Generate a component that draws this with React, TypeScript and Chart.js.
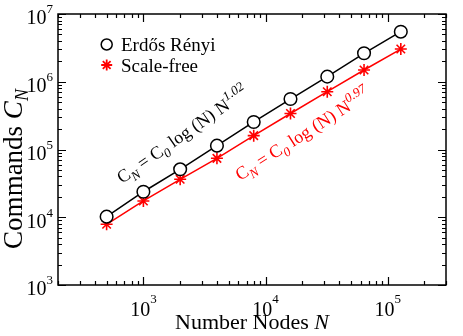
import React, { useEffect, useRef } from "react";
import { Chart, registerables } from "chart.js";

Chart.register(...registerables);

const nodes = [500, 1000, 2000, 4000, 8000, 16000, 32000, 64000, 128000];
const erdosRenyi = [10200, 23800, 51000, 114000, 255000, 556000, 1190000, 2630000, 5480000];
const scaleFree = [7870, 17400, 36300, 74100, 160000, 340000, 713000, 1490000, 3040000];
const xMajorExps = [3, 4, 5];
const yMajorExps = [3, 4, 5, 6, 7];
const X_MIN = 200;
const X_MAX = 300000;
const Y_MIN = 1000;
const Y_MAX = 10000000;

const FONT = '"Liberation Serif", "DejaVu Serif", serif';

type Seg = { t: string; size: number; italic?: boolean; dy?: number };

function drawRich(ctx: CanvasRenderingContext2D, segs: Seg[], x: number, y: number, angle: number, color: string) {
  ctx.save();
  ctx.translate(x, y);
  ctx.rotate(angle);
  ctx.fillStyle = color;
  ctx.textBaseline = "alphabetic";
  ctx.textAlign = "left";
  let cx = 0;
  for (const s of segs) {
    ctx.font = `${s.italic ? "italic " : ""}${s.size}px ${FONT}`;
    ctx.fillText(s.t, cx, s.dy || 0);
    cx += ctx.measureText(s.t).width;
  }
  ctx.restore();
}

function richWidth(ctx: CanvasRenderingContext2D, segs: Seg[]) {
  let w = 0;
  for (const s of segs) {
    ctx.font = `${s.italic ? "italic " : ""}${s.size}px ${FONT}`;
    w += ctx.measureText(s.t).width;
  }
  return w;
}

function drawStar(ctx: CanvasRenderingContext2D, x: number, y: number, r: number) {
  ctx.beginPath();
  for (let i = 0; i < 4; i++) {
    const a = (i * Math.PI) / 4;
    ctx.moveTo(x - r * Math.cos(a), y - r * Math.sin(a));
    ctx.lineTo(x + r * Math.cos(a), y + r * Math.sin(a));
  }
  ctx.stroke();
}

const decorPlugin = {
  id: "decor",
  afterDraw(chart: any) {
    const ctx: CanvasRenderingContext2D = chart.ctx;
    const xs = chart.scales.x;
    const ys = chart.scales.y;
    const { left, right, top, bottom } = chart.chartArea;
    ctx.save();
    // frame
    ctx.strokeStyle = "#000";
    ctx.lineWidth = 1.5;
    ctx.strokeRect(left, top, right - left, bottom - top);
    ctx.lineWidth = 1.2;
    // x ticks
    const xTicks: { v: number; major: boolean }[] = [];
    for (let e = 2; e <= 5; e++) {
      for (let m = 1; m <= 9; m++) {
        const v = m * Math.pow(10, e);
        if (v >= X_MIN && v <= X_MAX) xTicks.push({ v, major: m === 1 });
      }
    }
    ctx.beginPath();
    for (const t of xTicks) {
      const px = Math.round(xs.getPixelForValue(t.v)) + 0.5;
      const len = t.major ? 8 : 4;
      ctx.moveTo(px, bottom);
      ctx.lineTo(px, bottom - len);
      ctx.moveTo(px, top);
      ctx.lineTo(px, top + len);
    }
    const yTicks: { v: number; major: boolean }[] = [];
    for (let e = 3; e <= 7; e++) {
      for (let m = 1; m <= 9; m++) {
        const v = m * Math.pow(10, e);
        if (v >= Y_MIN && v <= Y_MAX) yTicks.push({ v, major: m === 1 });
      }
    }
    for (const t of yTicks) {
      const py = Math.round(ys.getPixelForValue(t.v)) + 0.5;
      const len = t.major ? 8 : 4;
      ctx.moveTo(left, py);
      ctx.lineTo(left + len, py);
      ctx.moveTo(right, py);
      ctx.lineTo(right - len, py);
    }
    ctx.stroke();

    // tick labels
    ctx.fillStyle = "#000";
    ctx.textBaseline = "middle";
    for (const e of yMajorExps) {
      const py = ys.getPixelForValue(Math.pow(10, e));
      ctx.font = `13px ${FONT}`;
      const ew = ctx.measureText(String(e)).width;
      ctx.textAlign = "left";
      ctx.fillText(String(e), left - 5 - ew, py - 4);
      ctx.font = `20px ${FONT}`;
      ctx.textAlign = "right";
      ctx.fillText("10", left - 5 - ew, py + 5);
    }
    for (const e of xMajorExps) {
      const px = xs.getPixelForValue(Math.pow(10, e));
      ctx.font = `20px ${FONT}`;
      const bw = ctx.measureText("10").width;
      ctx.font = `13px ${FONT}`;
      const ew = ctx.measureText(String(e)).width;
      const start = px - (bw + ew) / 2;
      ctx.textAlign = "left";
      ctx.font = `20px ${FONT}`;
      ctx.fillText("10", start, 311);
      ctx.font = `13px ${FONT}`;
      ctx.fillText(String(e), start + bw, 300);
    }

    // axis titles
    const xTitle: Seg[] = [
      { t: "Number Nodes ", size: 22 },
      { t: "N", size: 22, italic: true },
    ];
    const xw = richWidth(ctx, xTitle);
    drawRich(ctx, xTitle, (left + right) / 2 - xw / 2, 329, 0, "#000");
    const yTitle: Seg[] = [
      { t: "Commands ", size: 27 },
      { t: "C", size: 27, italic: true },
      { t: "N", size: 18, italic: true, dy: 6 },
    ];
    const yw = richWidth(ctx, yTitle);
    drawRich(ctx, yTitle, 21.5, 169 + yw / 2, -Math.PI / 2, "#000");

    // legend
    ctx.lineWidth = 1.5;
    ctx.strokeStyle = "#000";
    ctx.fillStyle = "#fff";
    ctx.beginPath();
    ctx.arc(106.7, 44.5, 5.5, 0, Math.PI * 2);
    ctx.fill();
    ctx.stroke();
    ctx.strokeStyle = "#ff0000";
    ctx.lineWidth = 1.8;
    drawStar(ctx, 106.7, 65, 5.5);
    drawRich(ctx, [{ t: "Erd\u0151s R\u00e9nyi", size: 19 }], 121, 51, 0, "#000");
    drawRich(ctx, [{ t: "Scale-free", size: 19 }], 121, 71.5, 0, "#000");

    // annotations
    drawRich(
      ctx,
      [
        { t: "C", size: 18 },
        { t: "N", size: 13, italic: true, dy: 5 },
        { t: " = C", size: 18 },
        { t: "0", size: 13, italic: true, dy: 5 },
        { t: " log (N) N", size: 18 },
        { t: "1.02", size: 13, italic: true, dy: -8 },
      ],
      122,
      184,
      (-35 * Math.PI) / 180,
      "#000"
    );
    drawRich(
      ctx,
      [
        { t: "C", size: 18 },
        { t: "N", size: 13, italic: true, dy: 5 },
        { t: " = C", size: 18 },
        { t: "0", size: 13, italic: true, dy: 5 },
        { t: " log (N) N", size: 18 },
        { t: "0.97", size: 13, italic: true, dy: -8 },
      ],
      240,
      181,
      (-32.5 * Math.PI) / 180,
      "#ff0000"
    );
    ctx.restore();
  },
};

export default function App() {
  const ref = useRef<HTMLCanvasElement | null>(null);
  useEffect(() => {
    if (!ref.current) return;
    const chart = new Chart(ref.current, {
      type: "line",
      data: {
        datasets: [
          {
            label: "Erdős Rényi",
            data: nodes.map((n, i) => ({ x: n, y: erdosRenyi[i] })),
            borderColor: "#000",
            borderWidth: 1.5,
            pointStyle: "circle",
            pointRadius: 6.3,
            pointBorderWidth: 1.5,
            pointBackgroundColor: "#fff",
            pointBorderColor: "#000",
          },
          {
            label: "Scale-free",
            data: nodes.map((n, i) => ({ x: n, y: scaleFree[i] })),
            borderColor: "#ff0000",
            borderWidth: 1.5,
            pointStyle: "star",
            pointRadius: 6,
            pointBorderWidth: 1.6,
            pointBackgroundColor: "#ff0000",
            pointBorderColor: "#ff0000",
          },
        ],
      },
      options: {
        responsive: false,
        animation: false,
        layout: { padding: { left: 58, right: 17, top: 14, bottom: 51 } },
        plugins: { legend: { display: false }, tooltip: { enabled: false } },
        scales: {
          x: { type: "logarithmic", min: X_MIN, max: X_MAX, display: false },
          y: { type: "logarithmic", min: Y_MIN, max: Y_MAX, display: false },
        },
      },
      plugins: [decorPlugin],
    });
    return () => chart.destroy();
  }, []);
  return (
    <div style={{ position: "fixed", left: 0, top: 0, width: 463, height: 336, background: "#fff" }}>
      <canvas ref={ref} width={463} height={336} />
    </div>
  );
}
